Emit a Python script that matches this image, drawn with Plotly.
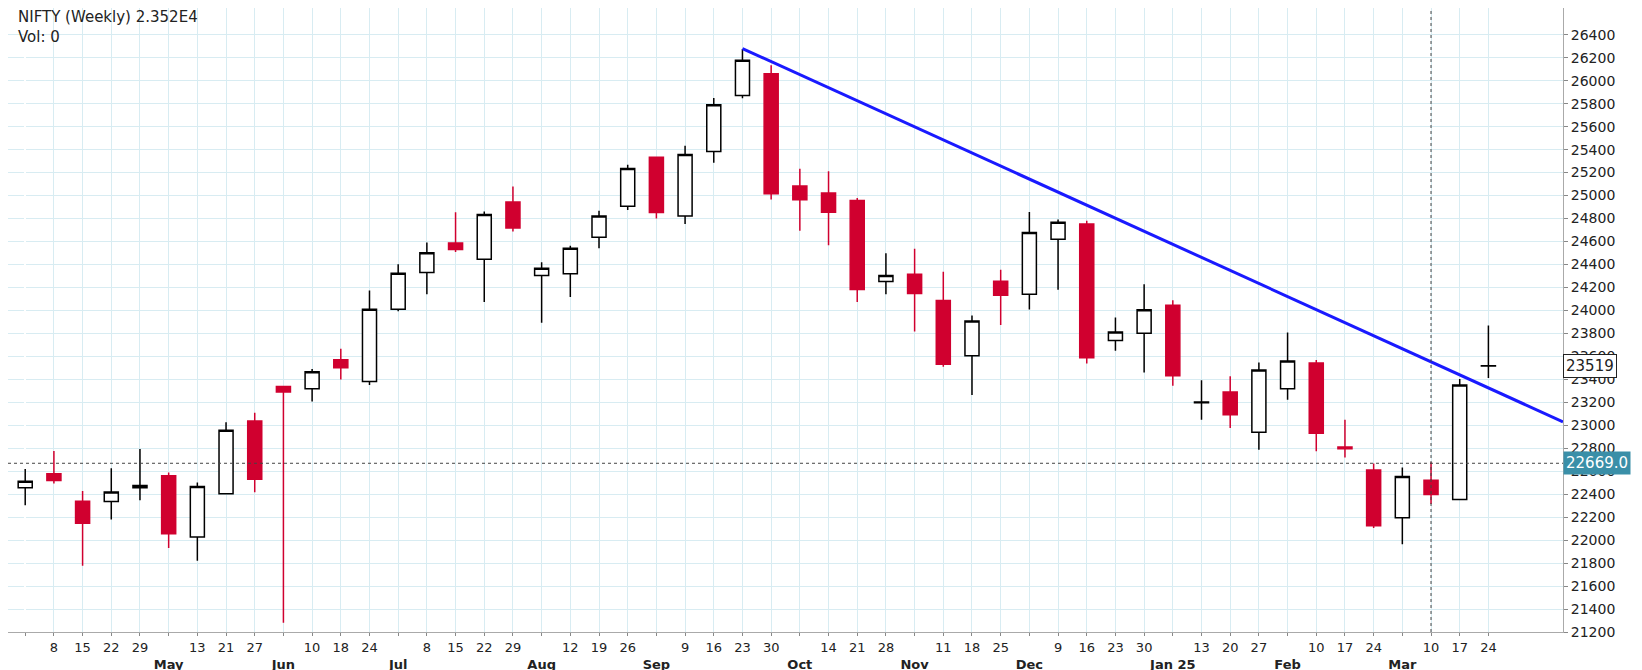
import plotly.graph_objects as go

# weekly candles, Apr 2024 - Mar 2025
week_labels = ["<br><b>Apr 24</b>", "8", "15", "22", "29", "<br><b>May</b>", "13", "21", "27",
               "<br><b>Jun</b>", "10", "18", "24", "<br><b>Jul</b>", "8", "15", "22", "29",
               "<br><b>Aug</b>", "12", "19", "26", "<br><b>Sep</b>", "9", "16", "23", "30",
               "<br><b>Oct</b>", "14", "21", "28", "<br><b>Nov</b>", "11", "18", "25",
               "<br><b>Dec</b>", "9", "16", "23", "30", "<br><b>Jan 25</b>", "13", "20", "27",
               "<br><b>Feb</b>", "10", "17", "24", "<br><b>Mar</b>", "10", "17", "24"]
opens = [22455, 22578, 22339, 22336, 22456, 22561, 22027, 22404, 23038, 23337, 23319, 23570, 23382,
         24010, 24330, 24587, 24446, 24943, 24303, 24320, 24637, 24906, 25333, 24823, 25383, 25872,
         26061, 25084, 25023, 24956, 24251, 24315, 24087, 23605, 24254, 24140, 24620, 24753, 23738,
         23801, 24045, 23195, 23290, 22940, 23319, 23543, 22810, 22610, 22194, 22522, 22353, 23515]
highs = [22619, 22775, 22427, 22625, 22794, 22588, 22502, 23026, 23110, 23338, 23490, 23667, 24174,
         24401, 24592, 24855, 24862, 25078, 24419, 24563, 24867, 25268, 25333, 25433, 25850, 26277,
         26134, 25234, 25212, 24978, 24498, 24537, 24336, 23956, 24354, 24857, 24792, 24781, 23939,
         24227, 24089, 23391, 23426, 23546, 23807, 23568, 23049, 22668, 22633, 22677, 23403, 23869]
lows = [22303, 22493, 21777, 22180, 22348, 21932, 21821, 22404, 22417, 21281, 23207, 23398, 23351,
        23992, 24141, 24508, 24074, 24686, 23893, 24116, 24541, 24874, 24801, 24753, 25285, 25847,
        24966, 24694, 24567, 24074, 24140, 23817, 23509, 23263, 23873, 24008, 24180, 23537, 23648,
        23460, 23345, 23047, 22977, 22787, 23222, 22774, 22720, 22105, 21965, 22314, 22353, 23412]
closes = [22513, 22519, 22147, 22420, 22476, 22055, 22466, 22957, 22531, 23290, 23465, 23501, 24010,
          24324, 24502, 24531, 24835, 24718, 24368, 24541, 24823, 25236, 24852, 25357, 25791, 26179,
          25015, 24964, 24854, 24181, 24304, 24148, 23532, 23907, 24131, 24678, 24768, 23588, 23813,
          24005, 23432, 23203, 23092, 23482, 23560, 22930, 22796, 22125, 22553, 22397, 23350, 23519]

trend_x = [25, 53.6]
trend_y = [26280, 23030]
last_price = 23519
cursor_price = 22669.0
cursor_week = 49

x = list(range(len(closes)))
red = "#d0002f"

fig = go.Figure()
fig.add_trace(go.Candlestick(
    x=x, open=opens, high=highs, low=lows, close=closes,
    increasing=dict(line=dict(color="black", width=1.5), fillcolor="white"),
    decreasing=dict(line=dict(color=red, width=1.5), fillcolor=red),
    whiskerwidth=0, showlegend=False))
fig.add_trace(go.Scatter(x=trend_x, y=trend_y, mode="lines",
                         line=dict(color="#1a1aff", width=3), showlegend=False))

fig.add_hline(y=cursor_price, line=dict(color="#444", width=1, dash="dot"))
fig.add_vline(x=cursor_week, line=dict(color="#444", width=1, dash="dot"))

fig.add_annotation(x=1, xref="paper", xanchor="left", y=cursor_price, yref="y",
                   text="22669.0", showarrow=False, bgcolor="#3a8fa8",
                   font=dict(color="white", size=15), borderpad=2)
fig.add_annotation(x=1, xref="paper", xanchor="left", y=last_price, yref="y",
                   text="23519", showarrow=False, bgcolor="white", bordercolor="#222",
                   borderwidth=1, font=dict(color="#222", size=15), borderpad=2)
fig.add_annotation(x=0, xref="paper", y=1, yref="paper", xanchor="left", yanchor="top",
                   text="NIFTY (Weekly) 2.352E4<br>Vol: 0", align="left", showarrow=False,
                   font=dict(size=15, color="#222"), xshift=8, yshift=2)

fig.update_layout(
    width=1642, height=670,
    margin=dict(l=0, r=87, t=0, b=46),
    plot_bgcolor="white", paper_bgcolor="white",
    font=dict(family="DejaVu Sans", size=14, color="#222"),
    xaxis=dict(tickvals=x, ticktext=week_labels, range=[-0.6, 53.6], automargin=False,
               rangeslider=dict(visible=False), showgrid=True, gridcolor="#d8ecf2",
               showline=True, linecolor="#aaa", ticks="outside", ticklen=3,
               tickcolor="#888", tickangle=0, tickfont=dict(size=13)),
    yaxis=dict(side="right", range=[21200, 26633], tickvals=list(range(21200, 26401, 200)),
               tickformat="d", automargin=False,
               showgrid=True, gridcolor="#d8ecf2", showline=True, linecolor="#aaa",
               ticks="outside", ticklen=4, tickcolor="#888"),
)

fig.write_html("out.html")
